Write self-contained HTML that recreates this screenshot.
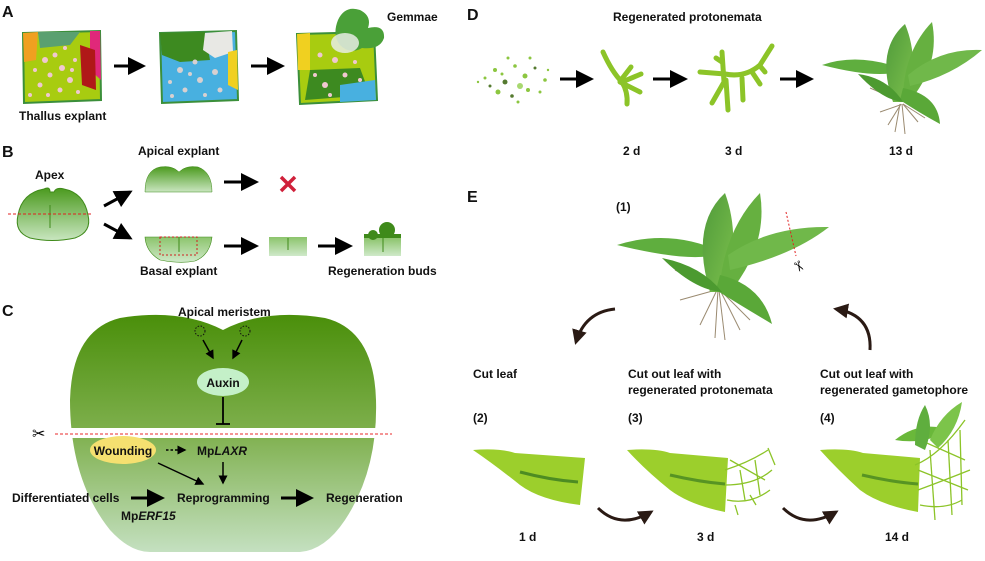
<!DOCTYPE html>
<html><head><meta charset="utf-8"><style>
html,body{margin:0;padding:0;background:#fff;}
svg{display:block;font-family:"Liberation Sans",Arial,sans-serif;}
.t{font-size:12px;font-weight:bold;fill:#111;}
.L{font-size:16px;font-weight:bold;fill:#111;}
</style></head><body>
<svg width="985" height="561" viewBox="0 0 985 561" xmlns="http://www.w3.org/2000/svg">
<defs>
<marker id="ah" markerWidth="6" markerHeight="6" refX="5" refY="3" orient="auto" markerUnits="strokeWidth"><path d="M0,0 L6,3 L0,6 z" fill="#000"/></marker>
<marker id="ah2" markerWidth="5" markerHeight="5" refX="4" refY="2.5" orient="auto" markerUnits="strokeWidth"><path d="M0,0 L5,2.5 L0,5 z" fill="#2a1a14"/></marker>
<linearGradient id="gC" x1="0" y1="0" x2="0" y2="1"><stop offset="0" stop-color="#4a8f0a"/><stop offset="0.5" stop-color="#7fb04e"/><stop offset="1" stop-color="#c4e0c0"/></linearGradient>
<linearGradient id="gB" x1="0" y1="0" x2="0" y2="1"><stop offset="0" stop-color="#4b9a1e"/><stop offset="1" stop-color="#c9e6c0"/></linearGradient>
<linearGradient id="gB2" x1="0" y1="0" x2="0" y2="1"><stop offset="0" stop-color="#8cc46c"/><stop offset="1" stop-color="#cfe9c9"/></linearGradient>
<linearGradient id="pl" x1="0" y1="0" x2="1" y2="1"><stop offset="0" stop-color="#4f9a3a"/><stop offset="1" stop-color="#7cc04c"/></linearGradient>
</defs>

<!-- Panel A -->
<text class="L" x="2" y="17">A</text>
<g>
<path d="M23,33 L100,31 L101,100 L24,103 Z" fill="#a8cc10" stroke="#3b8f3a" stroke-width="2"/>
<path d="M23,33 L38,32 L36,60 L24,62 Z" fill="#f0a020"/>
<path d="M90,31 L100,31 L101,80 L90,70 Z" fill="#e0287a"/>
<path d="M80,45 L95,50 L96,90 L82,85 Z" fill="#b01818"/>
<path d="M38,32 L80,32 L70,45 L40,48 Z" fill="#5aa070"/>
<g fill="#f0c8d0"><circle cx="45" cy="60" r="3"/><circle cx="55" cy="55" r="2.5"/><circle cx="62" cy="68" r="3"/><circle cx="50" cy="75" r="2.5"/><circle cx="70" cy="80" r="3"/><circle cx="40" cy="85" r="2.5"/><circle cx="60" cy="90" r="2.5"/><circle cx="75" cy="60" r="2"/><circle cx="35" cy="70" r="2"/><circle cx="65" cy="48" r="2"/><circle cx="48" cy="95" r="2"/><circle cx="78" cy="92" r="2"/><circle cx="30" cy="95" r="2"/><circle cx="72" cy="70" r="2"/></g>
</g>
<line x1="114" y1="66" x2="143" y2="66" stroke="#000" stroke-width="3" marker-end="url(#ah)"/>
<g>
<path d="M160,33 L236,31 L238,100 L162,103 Z" fill="#48b0e0" stroke="#3b8f3a" stroke-width="2"/>
<path d="M160,33 L205,32 L210,60 L180,62 L162,55 Z" fill="#3d8a20"/>
<path d="M205,33 L232,31 L233,52 L215,58 L203,50 Z" fill="#e8e8e4"/>
<path d="M228,52 L237,50 L238,90 L228,85 Z" fill="#f0d020"/>
<g fill="#d8d0d0"><circle cx="180" cy="70" r="3"/><circle cx="195" cy="62" r="2.5"/><circle cx="200" cy="80" r="3"/><circle cx="185" cy="90" r="2.5"/><circle cx="215" cy="72" r="3"/><circle cx="170" cy="82" r="2"/><circle cx="220" cy="90" r="2.5"/><circle cx="205" cy="95" r="2"/><circle cx="172" cy="96" r="2"/><circle cx="190" cy="74" r="2"/></g>
</g>
<line x1="251" y1="66" x2="282" y2="66" stroke="#000" stroke-width="3" marker-end="url(#ah)"/>
<g>
<path d="M297,34 L374,32 L377,100 L300,104 Z" fill="#a8cc10" stroke="#3b8f3a" stroke-width="2"/>
<path d="M297,34 L310,33 L310,70 L298,70 Z" fill="#f0d020"/>
<path d="M310,70 L360,68 L370,95 L305,100 Z" fill="#3d8a20"/>
<path d="M340,85 L375,80 L376,100 L340,102 Z" fill="#48b0e0"/>
<g fill="#f0c8d0"><circle cx="320" cy="55" r="2.5"/><circle cx="335" cy="60" r="3"/><circle cx="345" cy="75" r="2.5"/><circle cx="325" cy="85" r="3"/><circle cx="355" cy="62" r="2"/><circle cx="315" cy="75" r="2"/><circle cx="360" cy="80" r="2"/><circle cx="330" cy="95" r="2"/></g>
<path d="M338,20 Q345,5 360,10 Q372,16 368,28 Q385,24 384,38 Q380,50 362,48 Q350,55 340,45 Q332,35 338,20 Z" fill="#4aa038"/>
<ellipse cx="345" cy="43" rx="14" ry="10" fill="#e8ece4" opacity="0.85"/>
</g>
<text class="t" x="387" y="21">Gemmae</text>
<text class="t" x="19" y="120">Thallus explant</text>

<!-- Panel B -->
<text class="L" x="2" y="157">B</text>
<text class="t" x="35" y="179">Apex</text>
<path d="M50,192 Q50,186 44,189 Q22,193 18,215 Q14,232 30,238 Q52,243 75,238 Q92,232 88,215 Q84,193 64,189 Q56,187 54,192 Z" fill="url(#gB)" stroke="#3f8a1a"/>
<line x1="50" y1="205" x2="50" y2="228" stroke="#3f8a1a"/>
<line x1="8" y1="214" x2="92" y2="214" stroke="#e02020" stroke-dasharray="3,2"/>
<line x1="104" y1="206" x2="130" y2="192" stroke="#000" stroke-width="3" marker-end="url(#ah)"/>
<line x1="104" y1="224" x2="130" y2="238" stroke="#000" stroke-width="3" marker-end="url(#ah)"/>
<text class="t" x="138" y="155">Apical explant</text>
<path d="M145,192 Q145,170 160,167 Q172,165 179,172 Q186,165 198,167 Q212,172 212,192 Z" fill="url(#gB)" stroke="#3f8a1a" stroke-width="0.5"/>
<line x1="224" y1="182" x2="256" y2="182" stroke="#000" stroke-width="3" marker-end="url(#ah)"/>
<path d="M281,177 L295,191 M295,177 L281,191" stroke="#d0203a" stroke-width="3.5"/>
<path d="M145,237 L212,237 Q210,255 195,261 Q180,264 160,260 Q146,252 145,237 Z" fill="url(#gB2)" stroke="#3f8a1a" stroke-width="0.6"/>
<rect x="160" y="237" width="37" height="18" fill="none" stroke="#d02020" stroke-dasharray="2,2"/>
<line x1="179" y1="237" x2="179" y2="252" stroke="#3f8a1a"/>
<text class="t" x="140" y="275">Basal explant</text>
<line x1="224" y1="246" x2="256" y2="246" stroke="#000" stroke-width="3" marker-end="url(#ah)"/>
<rect x="269" y="237" width="38" height="19" fill="url(#gB2)"/>
<line x1="288" y1="238" x2="288" y2="250" stroke="#3f8a1a"/>
<line x1="318" y1="246" x2="350" y2="246" stroke="#000" stroke-width="3" marker-end="url(#ah)"/>
<rect x="364" y="238" width="37" height="18" fill="url(#gB2)"/>
<circle cx="387" cy="230" r="8" fill="#3f8a1a"/><circle cx="373" cy="235" r="5" fill="#3f8a1a"/><rect x="364" y="234" width="37" height="4" fill="#3f8a1a"/>
<line x1="383" y1="238" x2="383" y2="252" stroke="#3f8a1a"/>
<text class="t" x="328" y="275">Regeneration buds</text>

<!-- Panel C -->
<text class="L" x="2" y="316">C</text>
<path d="M223,330 Q180,308 120,318 Q72,330 70,400 Q70,480 110,530 Q130,552 150,552 L300,552 Q325,550 345,520 Q378,470 376,400 Q374,330 325,318 Q265,308 223,330 Z" fill="url(#gC)"/>
<rect x="60" y="428" width="330" height="10" fill="#fff"/>
<text class="t" x="178" y="316">Apical meristem</text>
<circle cx="200" cy="331" r="5" fill="none" stroke="#111" stroke-dasharray="1.5,1.5"/>
<circle cx="245" cy="331" r="5" fill="none" stroke="#111" stroke-dasharray="1.5,1.5"/>
<line x1="203" y1="340" x2="213" y2="358" stroke="#000" stroke-width="1.5" marker-end="url(#ah)"/>
<line x1="242" y1="340" x2="233" y2="358" stroke="#000" stroke-width="1.5" marker-end="url(#ah)"/>
<ellipse cx="223" cy="382" rx="26" ry="14" fill="#c4f0c8"/>
<text class="t" x="223" y="387" text-anchor="middle">Auxin</text>
<line x1="223" y1="397" x2="223" y2="424" stroke="#000" stroke-width="1.8"/>
<line x1="216" y1="424" x2="230" y2="424" stroke="#000" stroke-width="1.8"/>
<line x1="55" y1="434" x2="392" y2="434" stroke="#f07070" stroke-dasharray="3,2" stroke-width="1.5"/>
<text x="32" y="439" font-size="16" fill="#000">✂</text>
<ellipse cx="123" cy="450" rx="33" ry="14" fill="#f5e070"/>
<text class="t" x="123" y="455" text-anchor="middle">Wounding</text>
<line x1="166" y1="450" x2="185" y2="450" stroke="#000" stroke-width="1.5" stroke-dasharray="2.5,2" marker-end="url(#ah)"/>
<text class="t" x="197" y="455">Mp<tspan font-style="italic">LAXR</tspan></text>
<line x1="223" y1="462" x2="223" y2="483" stroke="#000" stroke-width="1.5" marker-end="url(#ah)"/>
<line x1="158" y1="463" x2="203" y2="484" stroke="#000" stroke-width="1.5" marker-end="url(#ah)"/>
<text class="t" x="12" y="502">Differentiated cells</text>
<line x1="131" y1="498" x2="162" y2="498" stroke="#000" stroke-width="3" marker-end="url(#ah)"/>
<text class="t" x="177" y="502">Reprogramming</text>
<line x1="281" y1="498" x2="311" y2="498" stroke="#000" stroke-width="3" marker-end="url(#ah)"/>
<text class="t" x="326" y="502">Regeneration</text>
<text class="t" x="121" y="520">Mp<tspan font-style="italic">ERF15</tspan></text>

<!-- Panel D -->
<text class="L" x="467" y="20">D</text>
<text class="t" x="613" y="21">Regenerated protonemata</text>
<g fill="#8cc640">
<circle cx="485" cy="78" r="1.5"/><circle cx="495" cy="70" r="2"/><circle cx="505" cy="82" r="2.5" fill="#557a30"/><circle cx="515" cy="66" r="1.8"/><circle cx="525" cy="76" r="2.5"/><circle cx="535" cy="68" r="1.5" fill="#557a30"/><circle cx="545" cy="80" r="1.8"/><circle cx="498" cy="92" r="2.5"/><circle cx="512" cy="96" r="1.8" fill="#557a30"/><circle cx="528" cy="90" r="2"/><circle cx="540" cy="92" r="1.5"/><circle cx="508" cy="58" r="1.5"/><circle cx="520" cy="86" r="3" fill="#a8d870"/><circle cx="490" cy="86" r="1.5" fill="#557a30"/><circle cx="530" cy="58" r="1.5"/><circle cx="518" cy="102" r="1.5"/><circle cx="502" cy="74" r="1.5"/><circle cx="548" cy="70" r="1.2"/><circle cx="478" cy="82" r="1.2"/>
</g>
<line x1="560" y1="79" x2="591" y2="79" stroke="#000" stroke-width="3" marker-end="url(#ah)"/>
<g stroke="#8cc428" stroke-width="5" stroke-linecap="round" fill="none">
<path d="M603,52 Q612,72 622,82 Q628,92 627,104"/><path d="M620,82 L640,92"/><path d="M621,80 L631,67"/><path d="M622,82 L641,74"/>
</g>
<line x1="653" y1="79" x2="685" y2="79" stroke="#000" stroke-width="3" marker-end="url(#ah)"/>
<g stroke="#8cc428" stroke-width="5" stroke-linecap="round" fill="none">
<path d="M700,72 L725,74 Q745,78 760,65 L772,46"/><path d="M722,52 L724,82 L712,103"/><path d="M726,80 L728,110"/><path d="M742,78 L743,100"/><path d="M752,72 L760,84"/><path d="M760,66 L765,72"/><path d="M716,58 L722,62"/>
</g>
<line x1="780" y1="79" x2="811" y2="79" stroke="#000" stroke-width="3" marker-end="url(#ah)"/>
<g>
<g stroke="#9a8a70" stroke-width="1" fill="none"><path d="M898,100 L870,88"/><path d="M900,105 L880,112"/><path d="M900,104 L895,132"/><path d="M903,104 L918,122"/><path d="M902,104 L905,134"/><path d="M901,104 L888,125"/><path d="M903,104 L925,118"/></g>
<path d="M822,65 Q860,52 905,70 Q880,80 822,65 Z" fill="#5fae3e"/>
<path d="M893,102 Q875,50 905,24 Q920,60 907,102 Z" fill="url(#pl)"/>
<path d="M903,95 Q905,50 932,22 Q940,62 913,97 Z" fill="#66b040"/>
<path d="M908,75 Q940,48 982,50 Q952,76 910,86 Z" fill="#70b84a"/>
<path d="M903,88 Q938,95 940,124 Q918,112 900,100 Z" fill="#5aa838"/>
<path d="M858,74 Q888,78 903,102 Q882,100 858,74 Z" fill="#4c9a30"/>
</g>
<text class="t" x="623" y="155">2 d</text>
<text class="t" x="725" y="155">3 d</text>
<text class="t" x="889" y="155">13 d</text>

<!-- Panel E -->
<text class="L" x="467" y="202">E</text>
<text class="t" x="616" y="211">(1)</text>
<g>
<g stroke="#9a8a70" stroke-width="1" fill="none"><path d="M715,288 L675,270"/><path d="M716,290 L680,300"/><path d="M718,290 L715,338"/><path d="M720,290 L740,330"/><path d="M719,290 L725,340"/><path d="M717,290 L700,325"/><path d="M720,290 L750,320"/></g>
<path d="M617,245 Q670,228 722,252 Q700,265 617,245 Z" fill="#5fae3e"/>
<path d="M710,292 Q690,225 725,193 Q742,240 724,292 Z" fill="url(#pl)"/>
<path d="M720,284 Q726,228 760,193 Q768,242 734,287 Z" fill="#66b040"/>
<path d="M728,255 Q770,226 829,227 Q792,256 730,270 Z" fill="#70b84a"/>
<path d="M720,275 Q762,285 772,324 Q745,308 716,290 Z" fill="#5aa838"/>
<path d="M662,258 Q702,266 722,292 Q694,290 662,258 Z" fill="#4c9a30"/>
</g>
<line x1="786" y1="212" x2="796" y2="256" stroke="#e02020" stroke-dasharray="2,2"/>
<text x="794" y="272" font-size="14" fill="#000" transform="rotate(60 800 266)">✂</text>
<path d="M615,309 Q585,312 576,342" fill="none" stroke="#2a1a14" stroke-width="3" marker-end="url(#ah2)"/>
<path d="M870,350 Q872,315 836,309" fill="none" stroke="#2a1a14" stroke-width="3" marker-end="url(#ah2)"/>
<text class="t" x="473" y="378">Cut leaf</text>
<text class="t" x="628" y="378">Cut out leaf with</text>
<text class="t" x="628" y="394">regenerated  protonemata</text>
<text class="t" x="820" y="378">Cut out leaf with</text>
<text class="t" x="820" y="394">regenerated  gametophore</text>
<text class="t" x="473" y="422">(2)</text>
<text class="t" x="628" y="422">(3)</text>
<text class="t" x="820" y="422">(4)</text>
<path d="M473,450 Q500,448 515,453 L585,458 L580,505 Q540,500 520,485 Q495,465 473,450 Z" fill="#9ccf2c"/>
<path d="M520,472 Q550,480 578,482" stroke="#3a7a20" stroke-width="3" fill="none" opacity="0.8"/>
<path d="M627,450 Q655,448 670,453 L728,458 L725,512 Q690,505 670,490 Q645,470 627,450 Z" fill="#9ccf2c"/>
<path d="M670,475 Q700,482 725,484" stroke="#3a7a20" stroke-width="3" fill="none" opacity="0.7"/>
<g stroke="#8cc428" stroke-width="1.3" fill="none"><path d="M725,470 Q750,462 768,450"/><path d="M725,485 Q755,485 772,470"/><path d="M727,500 Q750,505 770,490"/><path d="M740,470 L745,500"/><path d="M755,460 L760,495"/><path d="M730,460 L765,480"/><path d="M735,505 L738,515"/><path d="M750,495 L756,505"/><path d="M768,448 L775,465"/></g>
<path d="M820,450 Q848,448 863,453 L920,458 L918,512 Q880,505 860,490 Q838,470 820,450 Z" fill="#9ccf2c"/>
<path d="M862,475 Q892,482 918,484" stroke="#3a7a20" stroke-width="3" fill="none" opacity="0.7"/>
<g stroke="#8cc428" stroke-width="1.3" fill="none"><path d="M915,465 Q940,455 965,420"/><path d="M918,490 Q945,480 970,470"/><path d="M920,505 Q945,510 962,500"/><path d="M930,450 L935,520"/><path d="M948,440 L952,515"/><path d="M960,430 L962,505"/><path d="M918,470 L968,490"/><path d="M920,440 L965,460"/></g>
<path d="M895,440 Q920,420 950,430 Q925,445 895,440 Z" fill="#6ab83a"/>
<path d="M915,445 Q915,420 925,405 Q935,425 925,450 Z" fill="#5fae3e"/>
<path d="M930,440 Q940,415 962,402 Q958,430 938,448 Z" fill="#7cc44a"/>
<path d="M598,508 Q620,530 651,512" fill="none" stroke="#2a1a14" stroke-width="3" marker-end="url(#ah2)"/>
<path d="M783,508 Q805,530 836,512" fill="none" stroke="#2a1a14" stroke-width="3" marker-end="url(#ah2)"/>
<text class="t" x="519" y="541">1 d</text>
<text class="t" x="697" y="541">3 d</text>
<text class="t" x="885" y="541">14 d</text>
</svg>
</body></html>
